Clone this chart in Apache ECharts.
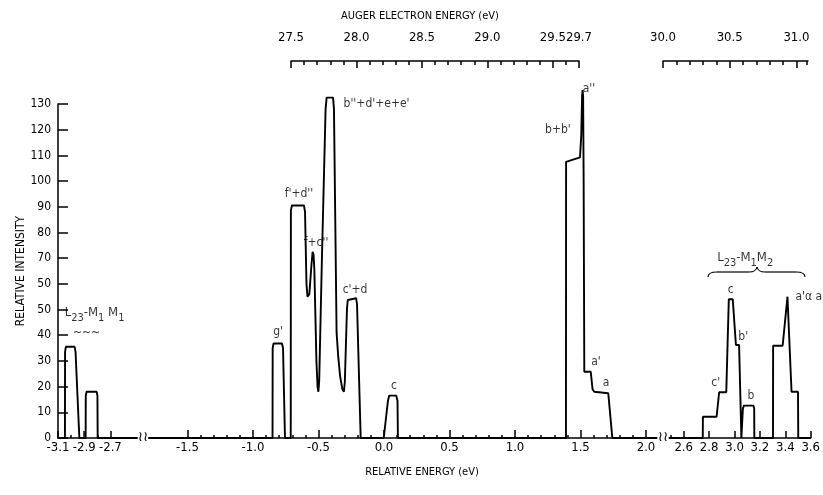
<!DOCTYPE html>
<html>
<head>
<meta charset="utf-8">
<title>Auger spectrum</title>
<script src="https://cdn.jsdelivr.net/npm/echarts@6.0.0/dist/echarts.min.js"></script>
<style>
  html, body { margin: 0; padding: 0; background: #fff; }
  #myChart { width: 823px; height: 495px; }
</style>
</head>
<body>
<div id="myChart"></div>
<script>
// ---- data (relative energy in eV, relative intensity) ----
var leftEnergy = [-3.100, -3.047, -3.046, -3.040, -2.973, -2.966, -2.937, -2.889, -2.888, -2.882, -2.805, -2.799, -2.797, -2.474]
var leftIntensity = [0, 0, 33.5, 35.5, 35.5, 33.5, 0, 0, 16.5, 18, 18, 16.5, 0, 0]

var midEnergy = [-1.817, -0.851, -0.850, -0.843, -0.779, -0.771, -0.756, -0.712, -0.711, -0.703,
  -0.611, -0.603, -0.592, -0.584, -0.577, -0.570, -0.553, -0.545, -0.538, -0.532,
  -0.516, -0.507, -0.501, -0.495, -0.474, -0.446, -0.438, -0.389, -0.382, -0.362,
  -0.350, -0.335, -0.318, -0.306, -0.299, -0.283, -0.277, -0.270, -0.213, -0.206,
  -0.178, -0.002, 0.030, 0.040, 0.093, 0.103, 0.106, 1.389, 1.390, 1.496,
  1.506, 1.512, 1.516, 1.520, 1.524, 1.529, 1.578, 1.592, 1.605, 1.712, 1.743, 2.084]
var midIntensity = [0, 0, 35, 36.8, 36.8, 35, 0, 0, 88.5, 90.5,
  90.5, 88, 60, 55, 54.4, 56, 68, 72.5, 71.5, 66,
  30, 19.5, 18, 22, 70, 128, 132.5, 132.5, 128, 41,
  32, 24, 19, 18, 22, 50, 53.7, 54.4, 54.4, 52,
  0, 0, 14.5, 16.5, 16.5, 14.5, 0, 0, 107.5, 109.2,
  118, 133, 135.4, 133, 100, 25.8, 25.8, 19, 18, 17.4, 0, 0]

var rightEnergy = [2.484, 2.750, 2.751, 2.859, 2.879, 2.935, 2.955, 2.986, 3.011, 3.036,
  3.054, 3.062, 3.066, 3.074, 3.149, 3.155, 3.156, 3.303, 3.304, 3.379,
  3.417, 3.449, 3.500, 3.502, 3.600]
var rightIntensity = [0, 0, 8.3, 8.3, 17.8, 17.8, 54, 54, 36.2, 36.2,
  0, 0, 11.5, 12.6, 12.6, 11.5, 0, 0, 35.9, 35.9,
  55, 18, 18, 0, 0]

// peak labels
var leftNoteText = ['{n|L}{s|23}{n|-M}{s|1}{n| M}{s|1}', '~~~']
var leftNoteE = [-2.821, -2.882]
var leftNoteI = [48, 40.9]

var midNoteText = ["g'", "f'+d''", "f+c''", "b''+d'+e+e'", "c'+d", 'c', "b+b'", "a''", "a'", 'a']
var midNoteE = [-0.809, -0.649, -0.519, -0.057, -0.221, 0.076, 1.328, 1.565, 1.618, 1.695]
var midNoteI = [41.2, 95, 75.9, 130, 57.6, 20.2, 119.8, 135.8, 29.6, 21.4]

var rightNoteText = ['{n|L}{s|23}{n|-M}{s|1}{n|M}{s|2}', 'c', "b'", "c'", 'b', "a'\u03b1 a"]
var rightNoteE = [3.084, 2.970, 3.069, 2.852, 3.130, 3.585]
var rightNoteI = [69.3, 57.6, 39.3, 21.4, 16.3, 54.9]

// tick values
var yTickLabels = ['0', '10', '20', '30', '40', '50', '50', '70', '80', '90', '100', '110', '120', '130']
var leftMajor = [-3.1, -2.9, -2.7]
var leftMinor = [-3.0, -2.8]
var midMajor = [-1.5, -1.0, -0.5, 0.0, 0.5, 1.0, 1.5, 2.0]
var rightMajor = [2.6, 2.8, 3.0, 3.2, 3.4, 3.6]
var rightMinor = [2.5]
var augerMajor1 = [27.5, 28.0, 28.5, 29.0, 29.5, 29.7]
var augerMajor2 = [30.0, 30.5, 31.0]

// minor ticks every 0.1 between majors
function tenths(from, to, skip) {
  var out = []
  for (var k = Math.round(from * 10); k <= Math.round(to * 10); k++) {
    var v = k / 10
    if (skip.indexOf(v) < 0) out.push(v)
  }
  return out
}
var midMinor = tenths(-1.5, 2.0, midMajor)
var augerMinor1 = tenths(27.5, 29.7, augerMajor1)
var augerMinor2 = tenths(30.0, 31.0, augerMajor2).concat([31.08])

function zip(xs, ys) {
  return xs.map(function (x, i) { return [x, ys[i]] })
}
function notes(es, is, texts) {
  return es.map(function (e, i) { return { value: [e, is[i]], name: texts[i] } })
}

var FONT = '"Liberation Sans Narrow", "DejaVu Sans Condensed", sans-serif'
var INK = '#000'

// layout: 131 px per eV on the energy axes
var plotTop = 104
var plotHeight = 334
var segs = [
  { left: 58, width: 82, min: -3.1, max: -2.474, major: leftMajor, minor: leftMinor, majorLen: 7 },
  { left: 146, width: 511, min: -1.817, max: 2.084, major: midMajor, minor: midMinor, majorLen: 8 },
  { left: 669, width: 147, min: 2.484, max: 3.6, major: rightMajor, minor: rightMinor, majorLen: 7 }
]
var augerSegs = [
  { left: 291, width: 288, min: 27.5, max: 29.7, major: augerMajor1, minor: augerMinor1 },
  { left: 663, width: 145, min: 30.0, max: 31.087, major: augerMajor2, minor: augerMinor2 }
]

var grids = []
var xAxes = []
var yAxes = []

function hiddenY(gi) {
  return { gridIndex: gi, type: 'value', min: 0, max: 130, show: false }
}

/* bottom energy axes + plot areas */
segs.forEach(function (s, i) {
  grids.push({ left: s.left, top: plotTop, width: s.width, height: plotHeight })
  xAxes.push({
    gridIndex: grids.length - 1,
    type: 'value',
    min: s.min,
    max: s.max,
    position: 'bottom',
    splitLine: { show: false },
    axisLine: { lineStyle: { color: INK, width: 1.5 } },
    axisTick: { inside: true, length: s.majorLen, customValues: s.major, lineStyle: { color: INK, width: 1.5 } },
    axisLabel: {
      customValues: s.major,
      margin: 3,
      color: INK,
      fontFamily: FONT,
      fontSize: 13,
      formatter: function (v) { return v.toFixed(1) }
    }
  })
  if (i === 0) {
    yAxes.push({
      gridIndex: 0,
      type: 'value',
      min: 0,
      max: 130,
      interval: 10,
      name: 'RELATIVE INTENSITY',
      nameLocation: 'middle',
      nameRotate: 90,
      nameGap: 30,
      nameTextStyle: { color: INK, fontFamily: FONT, fontSize: 12 },
      splitLine: { show: false },
      axisLine: { show: true, lineStyle: { color: INK, width: 1.5 } },
      axisTick: { show: true, inside: true, length: 10, lineStyle: { color: INK, width: 1.5 } },
      axisLabel: {
        margin: 7,
        color: INK,
        fontFamily: FONT,
        fontSize: 12,
        formatter: function (v) { return yTickLabels[Math.round(v / 10)] }
      }
    })
  } else {
    yAxes.push(hiddenY(grids.length - 1))
  }
})

/* minor ticks of the bottom axes, each on a thin grid sitting on the base line */
segs.forEach(function (s) {
  grids.push({ left: s.left, top: plotTop + plotHeight - 1, width: s.width, height: 1 })
  xAxes.push({
    gridIndex: grids.length - 1,
    type: 'value',
    min: s.min,
    max: s.max,
    position: 'bottom',
    splitLine: { show: false },
    axisLine: { show: false },
    axisTick: { inside: true, length: 3, customValues: s.minor, lineStyle: { color: INK, width: 1.5 } },
    axisLabel: { show: false }
  })
  yAxes.push(hiddenY(grids.length - 1))
})

/* auger electron energy axes on top */
augerSegs.forEach(function (s) {
  grids.push({ left: s.left, top: 60, width: s.width, height: 1 })
  xAxes.push({
    gridIndex: grids.length - 1,
    type: 'value',
    min: s.min,
    max: s.max,
    position: 'top',
    splitLine: { show: false },
    axisLine: { lineStyle: { color: INK, width: 1.5 } },
    axisTick: { inside: true, length: 7, customValues: s.major, lineStyle: { color: INK, width: 1.5 } },
    axisLabel: {
      customValues: s.major,
      margin: 16,
      color: INK,
      fontFamily: FONT,
      fontSize: 13,
      formatter: function (v) { return v.toFixed(1) }
    }
  })
  yAxes.push(hiddenY(grids.length - 1))
  grids.push({ left: s.left, top: 60, width: s.width, height: 1 })
  xAxes.push({
    gridIndex: grids.length - 1,
    type: 'value',
    min: s.min,
    max: s.max,
    position: 'top',
    splitLine: { show: false },
    axisLine: { show: false },
    axisTick: { inside: true, length: 4, customValues: s.minor, lineStyle: { color: INK, width: 1.5 } },
    axisLabel: { show: false }
  })
  yAxes.push(hiddenY(grids.length - 1))
})

var noteLabel = {
  show: true,
  position: 'inside',
  color: INK,
  textBorderWidth: 0,
  fontFamily: FONT,
  fontSize: 12,
  formatter: function (p) { return p.name },
  rich: {
    n: { fontFamily: FONT, fontSize: 13, color: INK, textBorderWidth: 0, verticalAlign: 'bottom', padding: [0, 0, 5, 0] },
    s: { fontFamily: FONT, fontSize: 11, color: INK, textBorderWidth: 0, verticalAlign: 'bottom' }
  }
}

function spectrum(i, data) {
  return {
    type: 'line',
    xAxisIndex: i,
    yAxisIndex: i,
    data: data,
    symbol: 'none',
    clip: false,
    silent: true,
    lineStyle: { color: INK, width: 1.9 }
  }
}
function labels(i, data) {
  return {
    type: 'scatter',
    xAxisIndex: i,
    yAxisIndex: i,
    data: data,
    symbolSize: 0,
    itemStyle: { color: '#fff' },
    clip: false,
    silent: true,
    label: noteLabel
  }
}

// brace over the L23-M1M2 group
var braceStyle = { fill: 'none', stroke: INK, lineWidth: 1.2 }
var brace = [
  { type: 'bezierCurve', shape: { x1: 708, y1: 277, cpx1: 708, cpy1: 272, x2: 717, y2: 272 }, style: braceStyle },
  { type: 'line', shape: { x1: 717, y1: 272, x2: 749, y2: 272 }, style: braceStyle },
  { type: 'bezierCurve', shape: { x1: 749, y1: 272, cpx1: 756, cpy1: 272, x2: 757, y2: 267 }, style: braceStyle },
  { type: 'bezierCurve', shape: { x1: 757, y1: 267, cpx1: 758, cpy1: 272, x2: 765, y2: 272 }, style: braceStyle },
  { type: 'line', shape: { x1: 765, y1: 272, x2: 796, y2: 272 }, style: braceStyle },
  { type: 'bezierCurve', shape: { x1: 796, y1: 272, cpx1: 805, cpy1: 272, x2: 805, y2: 277 }, style: braceStyle }
]

let myChart = echarts.init(document.getElementById('myChart'), null, { renderer: 'canvas' })
let option = {
  animation: false,
  backgroundColor: '#fff',
  textStyle: { fontFamily: FONT, color: INK },
  grid: grids,
  xAxis: xAxes,
  yAxis: yAxes,
  graphic: [
    {
      type: 'text', x: 420, y: 16,
      style: { text: 'AUGER ELECTRON ENERGY (eV)', fill: INK, font: '11px ' + FONT, align: 'center', verticalAlign: 'middle' }
    },
    {
      type: 'text', x: 422, y: 472,
      style: { text: 'RELATIVE ENERGY (eV)', fill: INK, font: '11px ' + FONT, align: 'center', verticalAlign: 'middle' }
    },
    // axis breaks
    {
      type: 'text', x: 143, y: 437, z: 10,
      style: { text: '\u2240\u2240', fill: INK, font: '14px "DejaVu Sans"', align: 'center', verticalAlign: 'middle', backgroundColor: '#fff' }
    },
    {
      type: 'text', x: 663, y: 437, z: 10,
      style: { text: '\u2240\u2240', fill: INK, font: '14px "DejaVu Sans"', align: 'center', verticalAlign: 'middle', backgroundColor: '#fff' }
    }
  ].concat(brace),
  series: [
    spectrum(0, zip(leftEnergy, leftIntensity)),
    spectrum(1, zip(midEnergy, midIntensity)),
    spectrum(2, zip(rightEnergy, rightIntensity)),
    labels(0, notes(leftNoteE, leftNoteI, leftNoteText)),
    labels(1, notes(midNoteE, midNoteI, midNoteText)),
    labels(2, notes(rightNoteE, rightNoteI, rightNoteText))
  ]
}
myChart.setOption(option, true)
</script>
</body>
</html>
